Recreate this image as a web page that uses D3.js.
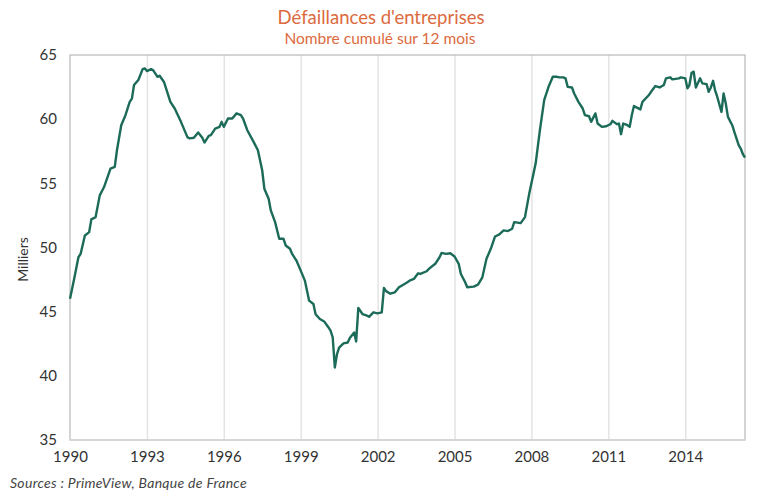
<!DOCTYPE html>
<html>
<head>
<meta charset="utf-8">
<script src="https://cdn.jsdelivr.net/npm/d3@7"></script>
<style>
  body { margin: 0; background: #fff; }
  svg { font-family: Lato, "Open Sans", sans-serif; }
</style>
</head>
<body>
<div class="chart"></div>
<script>
// monthly points (thousands of business failures, 12-month rolling sum)
var dates = [
  "1990-01","1990-03","1990-05","1990-06","1990-08","1990-10","1990-11","1991-01","1991-03","1991-05",
  "1991-08","1991-10","1991-11","1992-01","1992-03","1992-05","1992-06","1992-07","1992-09","1992-11",
  "1992-12","1993-01","1993-03","1993-04","1993-06","1993-07","1993-09","1993-12","1994-02","1994-05",
  "1994-08","1994-09","1994-11","1995-01","1995-03","1995-04","1995-06","1995-07","1995-09","1995-11",
  "1995-12","1996-01","1996-03","1996-05","1996-07","1996-09","1996-10","1996-12","1997-03","1997-05",
  "1997-07","1997-08","1997-10","1997-11","1998-01","1998-03","1998-05","1998-06","1998-08","1998-09",
  "1998-11","1999-01","1999-03","1999-05","1999-07","1999-08","1999-10","1999-12","2000-02","2000-03",
  "2000-04","2000-05","2000-06","2000-07","2000-09","2000-11","2000-12","2001-02","2001-03","2001-04",
  "2001-06","2001-08","2001-09","2001-11","2002-01","2002-03","2002-04","2002-05","2002-07","2002-09",
  "2002-11","2003-01","2003-03","2003-04","2003-06","2003-08","2003-09","2003-12","2004-01","2004-04",
  "2004-06","2004-07","2004-09","2004-11","2005-01","2005-03","2005-04","2005-06","2005-07","2005-10",
  "2005-12","2006-02","2006-04","2006-06","2006-08","2006-10","2006-12","2007-02","2007-04","2007-05",
  "2007-08","2007-10","2007-12","2008-03","2008-05","2008-07","2008-09","2008-11","2009-01","2009-02",
  "2009-04","2009-05","2009-06","2009-08","2009-09","2009-11","2010-01","2010-02","2010-04","2010-05",
  "2010-07","2010-08","2010-10","2010-12","2011-02","2011-03","2011-05","2011-06","2011-07","2011-08",
  "2011-10","2011-11","2011-12","2012-01","2012-04","2012-05","2012-08","2012-09","2012-11","2013-01",
  "2013-03","2013-04","2013-06","2013-07","2013-10","2013-11","2014-01","2014-02","2014-03","2014-04",
  "2014-05","2014-06","2014-08","2014-09","2014-11","2014-12","2015-01","2015-02","2015-03","2015-04",
  "2015-06","2015-07","2015-08","2015-09","2015-11","2015-12","2016-02","2016-03","2016-04","2016-05"
];
var values = [
  46.0, 47.55, 49.24, 49.5, 50.94, 51.2, 52.19, 52.37, 54.06, 54.71,
  56.15, 56.28, 57.58, 59.53, 60.31, 61.35, 61.6, 62.66, 63.05, 63.9,
  63.96, 63.75, 63.9, 63.8, 63.3, 63.38, 62.9, 61.35, 60.83, 59.79,
  58.6, 58.5, 58.55, 58.96, 58.55, 58.18, 58.7, 58.75, 59.27, 59.4,
  59.79, 59.4, 60.05, 60.05, 60.45, 60.31, 60.05, 59.14, 58.23, 57.58,
  56.02, 54.58, 53.8, 52.89, 51.98, 50.68, 50.68, 50.16, 49.9, 49.5,
  48.98, 48.2, 47.42, 45.86, 45.6, 44.8, 44.43, 44.24, 43.77, 43.52,
  43.0, 40.65, 41.7, 42.2, 42.53, 42.6, 42.94, 43.38, 42.68, 45.29,
  44.8, 44.69, 44.6, 44.95, 44.87, 44.95, 46.85, 46.6, 46.4, 46.5,
  46.9, 47.1, 47.29, 47.42, 47.55, 47.99, 47.94, 48.15, 48.33, 48.73,
  49.24, 49.58, 49.5, 49.55, 49.3, 48.73, 47.94, 47.29, 46.9, 46.95,
  47.1, 47.68, 49.12, 49.9, 50.86, 51.02, 51.33, 51.28, 51.46, 51.98,
  51.9, 52.37, 54.2, 56.54, 59.14, 61.48, 62.52, 63.3, 63.3, 63.26,
  63.26, 63.18, 62.52, 62.47, 62.0, 61.35, 60.83, 60.31, 60.23, 59.79,
  60.45, 59.66, 59.4, 59.45, 59.61, 59.87, 59.61, 59.66, 58.83, 59.66,
  59.53, 59.4, 60.31, 61.02, 60.76, 61.35, 61.88, 62.13, 62.58, 62.47,
  62.66, 63.18, 63.26, 63.1, 63.18, 63.26, 63.18, 62.4, 62.66, 63.62,
  63.7, 62.47, 63.18, 62.79, 62.73, 62.13, 62.47, 62.99, 62.27, 61.75,
  60.57, 62.0, 61.22, 60.18, 59.53, 59.01, 57.97, 57.71, 57.27, 57.0
];
var xTickYears = [1990, 1993, 1996, 1999, 2002, 2005, 2008, 2011, 2014];
var yTicks = [35, 40, 45, 50, 55, 60, 65];

var width = 763, height = 490;
var plotLeft = 70, plotRight = 745, plotTop = 55, plotBottom = 440;

var parse = d3.timeParse("%Y-%m");
var data = dates.map(function (d, i) { return { date: parse(d), value: values[i] }; });

var svg = d3.select(".chart").append("svg")
  .attr("width", width).attr("height", height);

var x = d3.scaleTime()
  .domain(d3.extent(data, function (d) { return d.date; }))
  .range([plotLeft, plotRight]);
var y = d3.scaleLinear().domain([35, 65]).range([plotBottom, plotTop]);

// titles
svg.append("text")
  .attr("x", 381).attr("y", 24)
  .attr("text-anchor", "middle")
  .style("fill", "#dc6a3e").style("font-size", "18.5px")
  .text("Défaillances d'entreprises");
svg.append("text")
  .attr("x", 380).attr("y", 44)
  .attr("text-anchor", "middle")
  .style("fill", "#dc6a3e").style("font-size", "15.5px")
  .text("Nombre cumulé sur 12 mois");

// vertical grid
var tickDates = xTickYears.map(function (yr) { return new Date(yr, 0, 1); });
svg.append("g")
  .attr("transform", "translate(0," + plotBottom + ")")
  .call(d3.axisBottom(x).tickValues(tickDates.slice(1)).tickSize(-(plotBottom - plotTop)).tickFormat(""))
  .call(function (g) {
    g.select(".domain").remove();
    g.selectAll("line").attr("stroke", "#e4e4e4").attr("stroke-width", 1.5);
  });

// frame
svg.append("rect")
  .attr("x", plotLeft).attr("y", plotTop)
  .attr("width", plotRight - plotLeft).attr("height", plotBottom - plotTop)
  .attr("fill", "none").attr("stroke", "#b8b8b8").attr("stroke-width", 1.2);
svg.append("line")
  .attr("x1", plotLeft).attr("x2", plotRight).attr("y1", plotBottom).attr("y2", plotBottom)
  .attr("stroke", "#d8d8d8").attr("stroke-width", 1.5);

// x labels
svg.append("g")
  .attr("transform", "translate(0," + plotBottom + ")")
  .call(d3.axisBottom(x).tickValues(tickDates).tickSize(0).tickPadding(11).tickFormat(d3.timeFormat("%Y")))
  .call(function (g) {
    g.select(".domain").remove();
    g.selectAll("text").style("font-size", "15px").style("fill", "#333")
      .style("font-family", "Lato, 'Open Sans', sans-serif");
  });

// y labels
svg.append("g")
  .attr("transform", "translate(" + plotLeft + ",0)")
  .call(d3.axisLeft(y).tickValues(yTicks).tickSize(0).tickPadding(13))
  .call(function (g) {
    g.select(".domain").remove();
    g.selectAll("text").style("font-size", "15px").style("fill", "#333")
      .style("font-family", "Lato, 'Open Sans', sans-serif");
  });

svg.append("text")
  .attr("transform", "translate(28," + ((plotTop + plotBottom) / 2 + 12) + ") rotate(-90)")
  .attr("text-anchor", "middle")
  .style("font-size", "14px").style("fill", "#333")
  .text("Milliers");

// the series
var line = d3.line()
  .x(function (d) { return x(d.date); })
  .y(function (d) { return y(d.value); });
svg.append("path")
  .datum(data)
  .attr("fill", "none")
  .attr("stroke", "#1c6b59")
  .attr("stroke-width", 2.4)
  .attr("stroke-linejoin", "round")
  .attr("d", line);

svg.append("text")
  .attr("x", 10).attr("y", 488)
  .style("font-size", "14px").style("font-style", "italic").style("fill", "#444")
  .style("letter-spacing", "0.3px")
  .text("Sources : PrimeView, Banque de France");
</script>
</body>
</html>
